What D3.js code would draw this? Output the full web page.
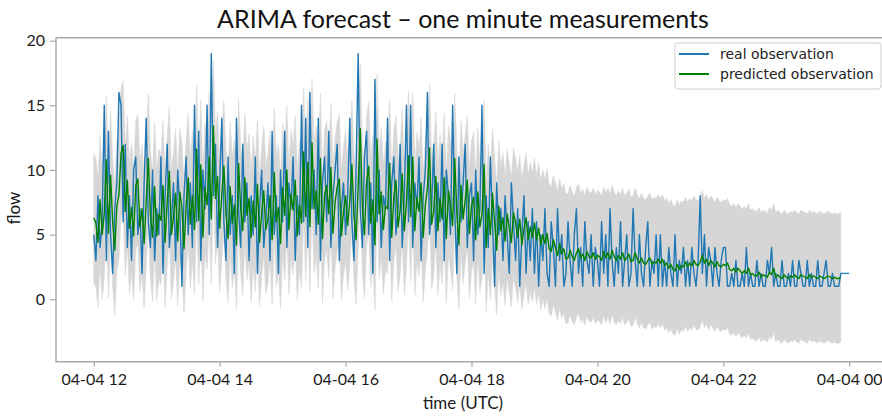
<!DOCTYPE html>
<html>
<head>
<meta charset="utf-8">
<script src="https://cdn.jsdelivr.net/npm/d3@7"></script>
<style>
  body { margin: 0; background: #fff; }
  svg { display: block; }
</style>
</head>
<body>
<svg id="chart" width="882" height="416"></svg>
<script>
// flow counts, one value every 2 minutes from 04-04 12:00 (last one at 00:00)
const realObs = [
  5,3,8,4,6,15,3,13,5,2,7,9,16,15,6,12,4,8,3,10,11,5,7,2,9,14,6,4,10,3,
  7,5,11,2,8,12,4,6,9,3,10,7,1,8,11,5,9,4,15,6,13,3,10,7,15,5,19,8,12,4,
  9,14,6,3,11,5,8,2,14,7,4,12,6,9,3,8,5,11,2,7,10,4,6,9,3,13,5,8,2,10,
  6,13,4,9,7,11,3,8,5,15,6,14,4,16,7,10,5,14,3,9,11,6,13,4,8,10,12,3,7,9,
  5,8,14,6,3,10,19,7,4,11,13,5,9,2,17,6,10,4,8,7,14,3,9,11,5,7,12,4,8,15,
  6,15,4,9,7,11,3,8,10,16,5,7,12,4,9,6,12,3,10,8,5,15,7,2,11,6,9,12,4,8,
  9,3,10,5,7,15,2,8,4,11,6,1,9,5,7,3,8,5,2,9,6,3,7,1,5,8,2,6,3,7,
  2,6,1,5,3,7,2,1,6,4,1,7,3,5,1,2,6,3,1,5,7,2,4,1,6,3,2,5,1,4,
  3,1,6,2,5,1,7,3,1,4,2,6,1,3,5,1,2,7,3,1,5,2,1,4,6,1,3,2,5,1,
  5,1,3,1,4,2,1,5,1,3,2,4,1,3,1,4,2,1,3,8,2,5,1,4,3,1,4,2,1,3,
  4,4,1,1,2,1,3,1,1,2,1,4,1,2,1,1,3,1,2,1,1,3,2,4,1,2,1,1,3,1,
  1,2,1,3,1,1,3,2,1,1,3,1,2,1,1,3,1,1,2,3,1,1,2,1,1,1,2,2,2,2,
  2
];

const predicted = [
  6.3,5.9,4.4,7.7,5.0,6.6,10.8,5.1,9.6,6.0,3.8,7.2,8.1,11.3,11.9,6.8,9.2,5.5,7.1,4.9,8.8,9.3,5.6,7.0,4.3,7.6,10.9,6.5,4.8,8.7,
  4.9,6.6,6.1,8.8,4.4,7.6,9.9,5.0,6.4,8.2,4.5,8.3,7.1,3.9,7.2,9.4,5.8,8.0,5.4,11.6,6.1,10.4,4.8,8.6,7.3,11.0,6.2,13.4,7.8,9.5,
  5.5,8.1,10.3,6.6,4.7,8.7,5.9,7.3,4.2,10.5,7.0,5.3,9.4,6.5,7.8,4.8,7.6,5.6,8.9,4.4,6.7,8.4,5.4,6.2,8.0,4.6,9.8,6.0,7.1,4.3,
  8.6,6.5,10.0,5.4,8.1,6.9,9.2,4.9,7.3,5.9,11.4,6.4,10.6,5.6,12.1,7.0,8.4,5.8,10.9,4.7,8.1,8.8,6.6,10.2,5.1,7.5,8.7,9.3,4.9,6.8,
  8.0,5.7,7.6,10.4,6.5,4.6,8.7,13.2,7.1,5.0,9.1,10.3,5.9,7.7,4.2,12.4,6.6,8.3,5.4,7.2,7.0,10.5,4.8,8.0,9.2,5.6,6.9,9.7,5.3,7.5,
  11.1,6.4,11.0,5.3,7.9,6.8,9.0,4.8,7.3,8.6,11.7,5.8,6.9,9.5,5.3,7.8,6.2,9.4,4.7,8.4,7.3,5.7,10.9,6.7,4.2,8.8,6.2,7.7,9.2,5.1,
  7.2,7.9,4.6,8.3,5.6,6.6,10.4,4.0,7.0,5.0,8.2,6.0,3.8,7.2,5.3,6.3,4.5,6.6,5.5,4.4,6.7,5.9,4.8,6.2,4.2,5.4,6.3,4.6,5.6,4.8,
  5.9,4.6,5.5,4.2,5.0,4.3,5.1,3.9,3.7,4.6,4.0,3.4,4.3,3.5,3.9,3.1,3.2,3.8,3.3,3.0,3.6,3.9,3.2,3.5,3.0,3.7,3.3,3.2,3.6,3.1,
  3.4,3.3,3.0,3.7,3.2,3.6,3.1,3.8,3.3,3.0,3.4,3.1,3.6,3.0,3.2,3.5,2.9,3.0,3.6,3.1,2.8,3.2,2.8,2.7,3.0,3.2,2.7,2.9,2.8,3.1,
  2.8,3.1,2.6,2.8,2.4,2.7,2.3,2.2,2.7,2.3,2.6,2.5,2.9,2.5,2.8,2.6,3.0,2.7,2.6,2.9,3.4,2.8,3.1,2.6,3.0,2.8,2.5,2.9,2.6,2.5,
  2.7,2.6,2.8,2.3,2.2,2.4,2.1,2.4,2.2,2.0,2.2,2.0,2.4,1.9,2.0,1.8,1.8,2.1,1.7,1.9,1.8,1.7,2.1,1.9,2.4,1.7,1.9,1.7,1.6,1.9,
  1.7,1.6,1.8,1.7,1.9,1.7,1.6,1.9,1.8,1.7,1.6,1.9,1.7,1.8,1.7,1.6,1.8,1.7,1.6,1.7,1.8,1.7,1.6,1.7,1.6,1.6,1.7
];

const lowerBound = [
  1.3,0.9,-0.6,2.7,0.0,1.6,5.8,0.1,4.6,1.0,-1.2,2.2,3.1,6.3,6.9,1.8,4.2,0.5,2.1,-0.1,3.8,4.3,0.6,2.0,-0.7,2.6,5.9,1.5,-0.2,3.7,
  -0.1,1.6,1.1,3.8,-0.6,2.6,4.9,0.0,1.4,3.2,-0.5,3.3,2.1,-1.1,2.2,4.4,0.8,3.0,0.4,6.6,1.1,5.4,-0.2,3.6,2.3,6.0,1.2,8.4,2.8,4.5,
  0.5,3.1,5.3,1.6,-0.3,3.7,0.9,2.3,-0.8,5.5,2.0,0.3,4.4,1.5,2.8,-0.2,2.6,0.6,3.9,-0.6,1.7,3.4,0.4,1.2,3.0,-0.4,4.8,1.0,2.1,-0.7,
  3.6,1.5,5.0,0.4,3.1,1.9,4.2,-0.1,2.3,0.9,6.4,1.4,5.6,0.6,7.1,2.0,3.4,0.8,5.9,-0.3,3.1,3.8,1.6,5.2,0.1,2.5,3.7,4.3,-0.1,1.8,
  3.0,0.7,2.6,5.4,1.5,-0.4,3.7,8.2,2.1,0.0,4.1,5.3,0.9,2.7,-0.8,7.4,1.6,3.3,0.4,2.2,2.0,5.5,-0.2,3.0,4.2,0.6,1.9,4.7,0.3,2.5,
  6.1,1.4,6.0,0.3,2.9,1.8,4.0,-0.2,2.3,3.6,6.7,0.8,1.9,4.5,0.3,2.8,1.2,4.4,-0.3,3.4,2.3,0.7,5.9,1.7,-0.8,3.8,1.2,2.7,4.2,0.1,
  2.2,2.9,-0.4,3.3,0.6,1.6,5.4,-1.0,2.0,0.0,3.2,1.0,-1.2,2.2,0.3,1.3,-0.5,1.6,0.5,-0.6,1.7,0.9,-0.2,1.2,-0.8,0.4,1.3,-0.4,0.6,-0.2,
  0.9,-0.4,0.5,-0.8,0.0,-0.7,0.1,-1.1,-1.3,-0.4,-1.0,-1.6,-0.7,-1.5,-1.1,-1.9,-1.8,-1.2,-1.7,-2.0,-1.4,-1.1,-1.8,-1.5,-2.0,-1.3,-1.7,-1.8,-1.4,-1.9,
  -1.6,-1.7,-2.0,-1.3,-1.8,-1.4,-1.9,-1.2,-1.7,-2.0,-1.6,-1.9,-1.4,-2.0,-1.8,-1.5,-2.1,-2.0,-1.4,-1.9,-2.2,-1.8,-2.2,-2.3,-2.0,-1.8,-2.3,-2.1,-2.2,-1.9,
  -2.2,-1.9,-2.4,-2.2,-2.6,-2.3,-2.7,-2.8,-2.3,-2.7,-2.4,-2.5,-2.1,-2.5,-2.2,-2.4,-2.0,-2.3,-2.4,-2.1,-1.6,-2.2,-1.9,-2.4,-2.0,-2.2,-2.5,-2.1,-2.4,-2.5,
  -2.3,-2.4,-2.2,-2.7,-2.8,-2.6,-2.9,-2.6,-2.8,-3.0,-2.8,-3.0,-2.6,-3.1,-3.0,-3.2,-3.2,-2.9,-3.3,-3.1,-3.2,-3.3,-2.9,-3.1,-2.6,-3.3,-3.1,-3.3,-3.4,-3.1,
  -3.3,-3.4,-3.2,-3.3,-3.1,-3.3,-3.4,-3.1,-3.2,-3.3,-3.4,-3.1,-3.3,-3.2,-3.3,-3.4,-3.2,-3.3,-3.4,-3.3,-3.2,-3.3,-3.4,-3.3,-3.4,-3.4,-3.3
];

const upperBound = [
  11.3,10.9,9.4,12.7,10.0,11.6,15.8,10.1,14.6,11.0,8.8,12.2,13.1,16.3,16.9,11.8,14.2,10.5,12.1,9.9,13.8,14.3,10.6,12.0,9.3,12.6,15.9,11.5,9.8,13.7,
  9.9,11.6,11.1,13.8,9.4,12.6,14.9,10.0,11.4,13.2,9.5,13.3,12.1,8.9,12.2,14.4,10.8,13.0,10.4,16.6,11.1,15.4,9.8,13.6,12.3,16.0,11.2,18.4,12.8,14.5,
  10.5,13.1,15.3,11.6,9.7,13.7,10.9,12.3,9.2,15.5,12.0,10.3,14.4,11.5,12.8,9.8,12.6,10.6,13.9,9.4,11.7,13.4,10.4,11.2,13.0,9.6,14.8,11.0,12.1,9.3,
  13.6,11.5,15.0,10.4,13.1,11.9,14.2,9.9,12.3,10.9,16.4,11.4,15.6,10.6,17.1,12.0,13.4,10.8,15.9,9.7,13.1,13.8,11.6,15.2,10.1,12.5,13.7,14.3,9.9,11.8,
  13.0,10.7,12.6,15.4,11.5,9.6,13.7,18.2,12.1,10.0,14.1,15.3,10.9,12.7,9.2,17.4,11.6,13.3,10.4,12.2,12.0,15.5,9.8,13.0,14.2,10.6,11.9,14.7,10.3,12.5,
  16.1,11.4,16.0,10.3,12.9,11.8,14.0,9.8,12.3,13.6,16.7,10.8,11.9,14.5,10.3,12.8,11.2,14.4,9.7,13.4,12.3,10.7,15.9,11.7,9.2,13.8,11.2,12.7,14.2,10.1,
  12.2,12.9,9.6,13.3,10.6,11.6,15.4,9.0,12.0,10.0,13.2,11.0,8.8,12.2,10.3,11.3,9.5,11.6,10.5,9.4,11.7,10.9,9.8,11.2,9.2,10.4,11.3,9.6,10.6,9.8,
  10.9,9.6,10.5,9.2,10.0,9.3,10.1,8.9,8.7,9.6,9.0,8.4,9.3,8.5,8.9,8.1,8.2,8.8,8.3,8.0,8.6,8.9,8.2,8.5,8.0,8.7,8.3,8.2,8.6,8.1,
  8.4,8.3,8.0,8.7,8.2,8.6,8.1,8.8,8.3,8.0,8.4,8.1,8.6,8.0,8.2,8.5,7.9,8.0,8.6,8.1,7.8,8.2,7.8,7.7,8.0,8.2,7.7,7.9,7.8,8.1,
  7.8,8.1,7.6,7.8,7.4,7.7,7.3,7.2,7.7,7.3,7.6,7.5,7.9,7.5,7.8,7.6,8.0,7.7,7.6,7.9,8.4,7.8,8.1,7.6,8.0,7.8,7.5,7.9,7.6,7.5,
  7.7,7.6,7.8,7.3,7.2,7.4,7.1,7.4,7.2,7.0,7.2,7.0,7.4,6.9,7.0,6.8,6.8,7.1,6.7,6.9,6.8,6.7,7.1,6.9,7.4,6.7,6.9,6.7,6.6,6.9,
  6.7,6.6,6.8,6.7,6.9,6.7,6.6,6.9,6.8,6.7,6.6,6.9,6.7,6.8,6.7,6.6,6.8,6.7,6.6,6.7,6.8,6.7,6.6,6.7,6.6,6.6,6.7
];

const xTicks = [12, 14, 16, 18, 20, 22, 24];
const xTickLabels = ["04-04 12", "04-04 14", "04-04 16", "04-04 18", "04-04 20", "04-04 22", "04-04 00"];
const yTicks = [0, 5, 10, 15, 20];
const seriesNames = ["real observation", "predicted observation"];
const seriesColors = ["#1f77b4", "#008000"];

const startHour = 12, stepMinutes = 2;
const hourAt = i => startHour + i * stepMinutes / 60;

const plotLeft = 56, plotRight = 887, plotTop = 37.7, plotBottom = 361.7;
const uiFont = "Lato, 'Open Sans', sans-serif";

const svg = d3.select("#chart");

const x = d3.scaleLinear().domain([11.4, 24.6]).range([plotLeft, plotRight]);
const y = d3.scaleLinear().domain([-4.83, 20.23]).range([plotBottom, plotTop]);

// confidence band
const band = d3.area()
    .x((d, i) => x(hourAt(i)))
    .y0((d, i) => y(lowerBound[i]))
    .y1((d, i) => y(upperBound[i]));

svg.append("path")
    .datum(predicted)
    .attr("d", band)
    .attr("fill", "#d6d6d6")
    .attr("stroke", "#d9d9d9")
    .attr("stroke-width", 0.6);

const line = d3.line()
    .x((d, i) => x(hourAt(i)))
    .y(d => y(d));

svg.append("path")
    .datum(realObs)
    .attr("d", line)
    .attr("fill", "none")
    .attr("stroke", seriesColors[0])
    .attr("stroke-width", 1.4)
    .attr("stroke-linejoin", "round");

svg.append("path")
    .datum(predicted)
    .attr("d", line)
    .attr("fill", "none")
    .attr("stroke", seriesColors[1])
    .attr("stroke-width", 1.4)
    .attr("stroke-linejoin", "round");

// axes
const yAxis = svg.append("g")
    .attr("transform", "translate(" + plotLeft + ",0)")
    .call(d3.axisLeft(y).tickValues(yTicks).tickSize(6).tickPadding(5));

const xAxis = svg.append("g")
    .attr("transform", "translate(0," + plotBottom + ")")
    .call(d3.axisBottom(x).tickValues(xTicks).tickSize(5).tickPadding(7)
        .tickFormat((d, i) => xTickLabels[i]));

[yAxis, xAxis].forEach(function(g) {
    g.select(".domain").remove();
    g.selectAll(".tick line").attr("stroke", "#9a9a9a");
    g.selectAll(".tick text")
        .attr("fill", "#1a1a1a")
        .style("font-family", uiFont)
        .style("font-size", "16px");
});

// spines: left, top, bottom
svg.append("path")
    .attr("d", "M" + plotRight + "," + plotTop + "H" + plotLeft + "V" + plotBottom + "H" + plotRight)
    .attr("fill", "none")
    .attr("stroke", "#aaaaaa")
    .attr("stroke-width", 1.4);

// labels
svg.append("text")
    .attr("x", 463)
    .attr("y", 27.5)
    .attr("text-anchor", "middle")
    .style("font-family", uiFont)
    .style("font-size", "25px")
    .attr("fill", "#111")
    .text("ARIMA forecast – one minute measurements");

svg.append("text")
    .attr("x", 463)
    .attr("y", 409)
    .attr("text-anchor", "middle")
    .style("font-family", uiFont)
    .style("font-size", "17px")
    .attr("fill", "#1a1a1a")
    .text("time (UTC)");

svg.append("text")
    .attr("transform", "translate(20,208) rotate(-90)")
    .attr("text-anchor", "middle")
    .style("font-family", uiFont)
    .style("font-size", "17px")
    .attr("fill", "#1a1a1a")
    .text("flow");

// legend
const legend = svg.append("g").attr("transform", "translate(675,43)");

legend.append("rect")
    .attr("width", 206)
    .attr("height", 46)
    .attr("rx", 3)
    .attr("fill", "#fff")
    .attr("fill-opacity", 0.85)
    .attr("stroke", "#d0d0d0");

const entries = legend.selectAll("g.entry")
    .data(seriesNames)
    .enter().append("g")
    .attr("class", "entry")
    .attr("transform", (d, i) => "translate(0," + (11 + i * 20) + ")");

entries.append("line")
    .attr("x1", 4).attr("x2", 34)
    .attr("stroke", (d, i) => seriesColors[i])
    .attr("stroke-width", 2);

entries.append("text")
    .attr("x", 45)
    .attr("dy", "0.35em")
    .style("font-family", "'DejaVu Sans', sans-serif")
    .style("font-size", "14px")
    .attr("fill", "#222")
    .text(d => d);
</script>
</body>
</html>
